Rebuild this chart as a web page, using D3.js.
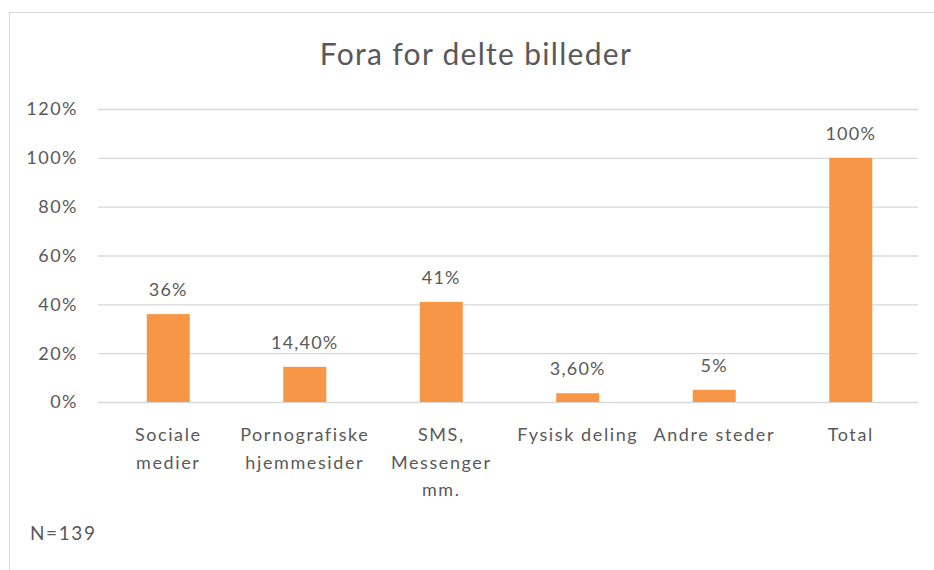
<!DOCTYPE html>
<html>
<head>
<meta charset="utf-8">
<script src="https://cdn.jsdelivr.net/npm/d3@7"></script>
<style>
  body { margin: 0; background: #fff; }
  text { font-family: Lato, "Open Sans", sans-serif; fill: #595959; }
</style>
</head>
<body>
<div id="chart"></div>
<script>
// data
var categories = [["Sociale", "medier"], ["Pornografiske", "hjemmesider"], ["SMS,", "Messenger", "mm."],
                  ["Fysisk deling"], ["Andre steder"], ["Total"]];
var values = [36, 14.4, 41, 3.6, 5, 100];
var valueLabels = ["36%", "14,40%", "41%", "3,60%", "5%", "100%"];
var yTicks = [0, 20, 40, 60, 80, 100, 120];

var W = 934, H = 570;
var plot = {left: 98, right: 918, top: 109, bottom: 402};

var svg = d3.select("#chart").append("svg")
  .attr("width", W)
  .attr("height", H);

// chart frame
svg.append("rect")
  .attr("x", 9.5).attr("y", 12.5)
  .attr("width", 1000).attr("height", 1000)
  .attr("fill", "none")
  .attr("stroke", "#d9d9d9");

// title
svg.append("text")
  .attr("x", 476).attr("y", 65)
  .attr("text-anchor", "middle")
  .style("font-size", "30px")
  .style("letter-spacing", "1.3px")
  .text("Fora for delte billeder");

var x = d3.scaleBand()
  .domain(d3.range(categories.length))
  .range([plot.left + 2, plot.right + 1])
  .paddingInner(0.685)
  .paddingOuter(0.3425);

var y = d3.scaleLinear()
  .domain([0, 120])
  .range([plot.bottom, plot.top]);

// gridlines
svg.append("g")
  .attr("transform", "translate(" + plot.left + ",0)")
  .call(d3.axisLeft(y).tickValues(yTicks).tickSize(-(plot.right - plot.left)).tickFormat(""))
  .call(function(g) { g.select(".domain").remove(); })
  .selectAll("line")
    .attr("stroke", "#d9d9d9")
    .attr("stroke-width", 1.3);

// y tick labels
svg.append("g")
  .selectAll("text")
  .data(yTicks)
  .enter()
  .append("text")
    .attr("x", 78)
    .attr("y", function(d) { return y(d); })
    .attr("dy", "0.36em")
    .attr("text-anchor", "end")
    .style("font-size", "18px")
    .style("letter-spacing", "1.5px")
    .text(function(d) { return d + "%"; });

// bars
svg.append("g")
  .selectAll("rect")
  .data(values)
  .enter()
  .append("rect")
    .attr("x", function(d, i) { return x(i); })
    .attr("y", function(d) { return y(d); })
    .attr("width", x.bandwidth())
    .attr("height", function(d) { return y(0) - y(d); })
    .attr("fill", "#f79646");

// value labels
svg.append("g")
  .selectAll("text")
  .data(values)
  .enter()
  .append("text")
    .attr("x", function(d, i) { return x(i) + x.bandwidth() / 2; })
    .attr("y", function(d) { return y(d) - 18; })
    .attr("text-anchor", "middle")
    .style("font-size", "18px")
    .style("letter-spacing", "1.2px")
    .text(function(d, i) { return valueLabels[i]; });

// category labels
var cat = svg.append("g")
  .selectAll("text")
  .data(categories)
  .enter()
  .append("text")
    .attr("x", function(d, i) { return x(i) + x.bandwidth() / 2; })
    .attr("y", 441)
    .attr("text-anchor", "middle")
    .style("font-size", "18px")
    .style("letter-spacing", "1.6px");

cat.selectAll("tspan")
  .data(function(d) { return d; })
  .enter()
  .append("tspan")
    .attr("x", function() { return d3.select(this.parentNode).attr("x"); })
    .attr("dy", function(d, i) { return i === 0 ? 0 : 27.5; })
    .text(function(d) { return d; });

// note
svg.append("text")
  .attr("x", 30).attr("y", 540)
  .style("font-size", "19px")
  .style("letter-spacing", "1.6px")
  .text("N=139");
</script>
</body>
</html>
